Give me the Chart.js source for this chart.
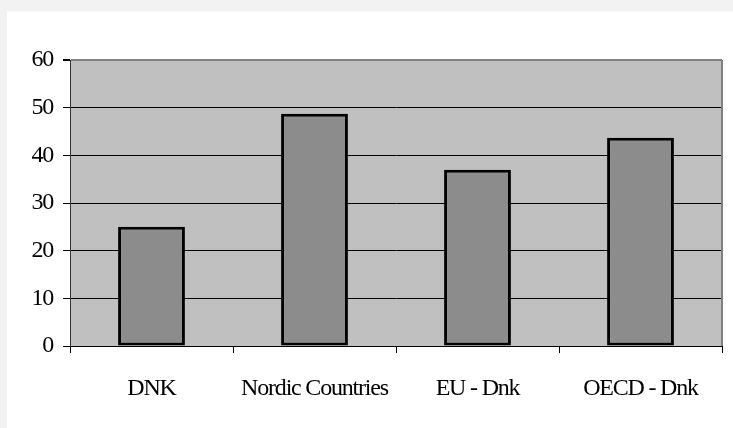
<!DOCTYPE html>
<html>
<head>
<meta charset="utf-8">
<script src="https://cdn.jsdelivr.net/npm/chart.js@4"></script>
<style>
  html, body { margin: 0; padding: 0; background: #f2f2f2; }
  #wrap { width: 733px; height: 428px; position: relative; }
</style>
</head>
<body>
<div id="wrap"><canvas id="barChart" width="733" height="428"></canvas></div>
<script>
// data
const categories = ['DNK', 'Nordic Countries', 'EU - Dnk', 'OECD - Dnk'];
const values = [25.0, 48.7, 37.0, 43.7];
const yTicks = [0, 10, 20, 30, 40, 50, 60];

// panel background, plot area fill and right border
const backdrop = {
    id: 'backdrop',
    beforeLayout(chart) {
        chart.ctx.letterSpacing = '-1.2px';
    },
    beforeDraw(chart) {
        const ctx = chart.ctx;
        ctx.save();
        ctx.fillStyle = '#f2f2f2';
        ctx.fillRect(0, 0, chart.width, chart.height);
        ctx.fillStyle = '#ffffff';
        ctx.fillRect(7, 11, chart.width - 7, chart.height - 11);
        const a = chart.chartArea;
        ctx.fillStyle = '#c0c0c0';
        ctx.fillRect(a.left, a.top, a.right - a.left, a.bottom - a.top);
        ctx.restore();
        ctx.letterSpacing = '-1.2px';
    },
    beforeDatasetsDraw(chart) {
        const ctx = chart.ctx;
        const a = chart.chartArea;
        ctx.save();
        ctx.strokeStyle = '#808080';
        ctx.lineWidth = 2;
        ctx.beginPath();
        ctx.moveTo(a.right, a.top);
        ctx.lineTo(a.right, a.bottom);
        ctx.stroke();
        ctx.restore();
    }
};

const ctx = document.getElementById('barChart').getContext('2d');
new Chart(ctx, {
    type: 'bar',
    data: {
        labels: categories,
        datasets: [{
            data: values,
            backgroundColor: '#8c8c8c',
            borderColor: '#000000',
            borderWidth: 3,
            borderSkipped: false,
            categoryPercentage: 1,
            barPercentage: 0.41
        }]
    },
    options: {
        responsive: false,
        animation: false,
        devicePixelRatio: 1,
        layout: { padding: { left: 0, top: 60, right: 11, bottom: 0 } },
        plugins: {
            legend: { display: false },
            tooltip: { enabled: false }
        },
        font: { family: 'Liberation Serif', size: 24 },
        scales: {
            x: {
                afterFit(scale) { scale.height = 82; },
                grid: {
                    offset: true,
                    drawOnChartArea: false,
                    drawTicks: true,
                    tickLength: 7,
                    tickColor: '#000000'
                },
                border: { color: '#000000', width: 1 },
                ticks: {
                    color: '#000000',
                    padding: 21,
                    maxRotation: 0,
                    autoSkip: false,
                    font: { family: 'Liberation Serif', size: 24 }
                }
            },
            y: {
                min: 0,
                max: 60,
                afterFit(scale) { scale.width = 70; },
                afterBuildTicks(scale) {
                    scale.ticks = yTicks.map(v => ({ value: v }));
                },
                grid: {
                    color: c => c.tick && c.tick.value === 60 ? '#808080' : '#000000',
                    lineWidth: c => c.tick && c.tick.value === 60 ? 2 : 1,
                    tickLength: 7,
                    tickColor: '#000000'
                },
                border: { color: '#333333', width: 1 },
                ticks: {
                    color: '#000000',
                    padding: 10,
                    font: { family: 'Liberation Serif', size: 24 }
                }
            }
        }
    },
    plugins: [backdrop]
});
</script>
</body>
</html>
